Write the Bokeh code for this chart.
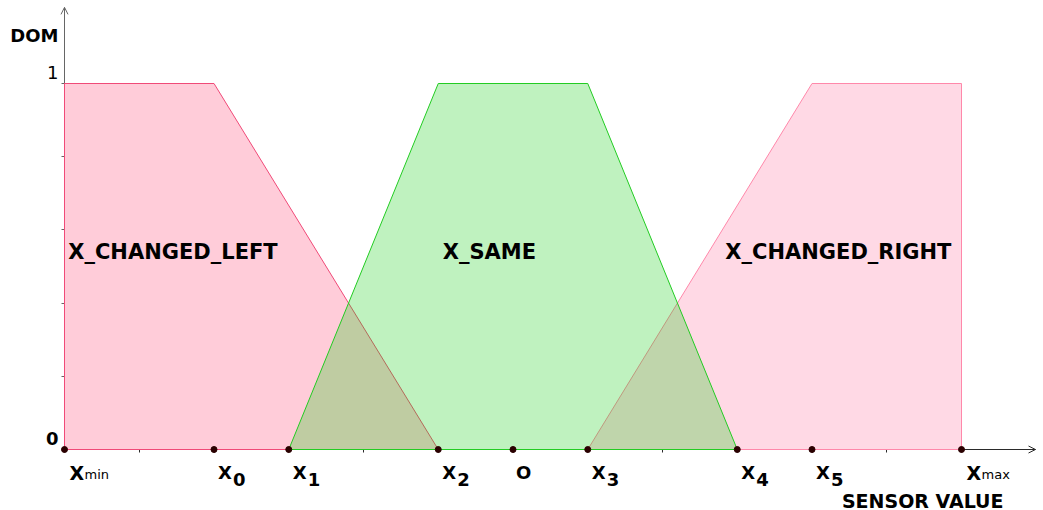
from bokeh.plotting import figure
from bokeh.models import (ColumnDataSource, LinearAxis, FixedTicker, Range1d,
                          Arrow, OpenHead, CustomLabelingPolicy)
from bokeh.core.properties import value
from bokeh.embed import file_html
from bokeh.resources import INLINE

# ---------------- data ----------------
point_x = [0, 2, 3, 5, 6, 7, 9, 10, 12]
point_main = ["X", "X", "X", "X", "O", "X", "X", "X", "X"]
point_sub = ["min", "0", "1", "2", "", "3", "4", "5", "max"]

left_x = [0, 0, 2, 5]
left_y = [0, 1, 1, 0]
same_x = [3, 5, 7, 9]
same_y = [0, 1, 1, 0]
right_x = [7, 10, 12, 12]
right_y = [0, 1, 1, 0]

set_names = ["X_CHANGED_LEFT", "X_SAME", "X_CHANGED_RIGHT"]
set_label_x = [0.05, 5.06, 8.84]
set_label_y = [0.54, 0.54, 0.54]

y_major = [0, 1]
y_major_labels = ["0", "1"]
y_minor = [0.2, 0.4, 0.6, 0.8]
x_ticks = list(range(0, 13))
y_title = "DOM"
x_title = "SENSOR VALUE"

# ---------------- layout ----------------
W, H = 1043, 510
PX_X = 74.75      # pixels per x unit
PX_Y = 366.0      # pixels per y unit
ORIGIN_SX = 64
ORIGIN_SY = 449
X_AXIS_END = 12.99
Y_AXIS_END = 1.208

x0 = -ORIGIN_SX / PX_X
x1 = x0 + W / PX_X
y1 = ORIGIN_SY / PX_Y
y0 = y1 - H / PX_Y

p = figure(width=W, height=H, output_backend="svg", toolbar_location=None,
           x_axis_type=None, y_axis_type=None,
           x_range=Range1d(x0, x1), y_range=Range1d(y0, y1),
           min_border=0, background_fill_color="white", outline_line_color=None)
p.grid.visible = False

no_labels = CustomLabelingPolicy(code="return new Set()")

AX = "#2a2a2a"
AY = "#666666"
xaxis = LinearAxis(fixed_location=0, ticker=FixedTicker(ticks=x_ticks),
                   major_label_policy=no_labels, bounds=(0, X_AXIS_END),
                   major_tick_out=3, major_tick_in=0, minor_tick_out=0,
                   axis_line_color=AX, major_tick_line_color=AX)
yaxis = LinearAxis(fixed_location=0, ticker=FixedTicker(ticks=y_major, minor_ticks=y_minor),
                   major_label_policy=no_labels, bounds=(0, Y_AXIS_END),
                   major_tick_out=3, major_tick_in=0, minor_tick_out=3, minor_tick_in=0,
                   axis_line_color=AY, major_tick_line_color=AY, minor_tick_line_color=AY)
xaxis.level = "underlay"
yaxis.level = "underlay"
p.add_layout(xaxis, "below")
p.add_layout(yaxis, "left")

# membership sets
p.patch(left_x, left_y, fill_color="#ff3366", fill_alpha=0.25,
        line_color="#f04a78", line_width=1)
p.patch(right_x, right_y, fill_color="#ff6699", fill_alpha=0.25,
        line_color="#ff88aa", line_width=1)
p.patch(same_x, same_y, fill_color="#00cc00", fill_alpha=0.25,
        line_color="#22cc22", line_width=1)

# set names
p.text(x=set_label_x, y=set_label_y, text=set_names,
       text_font=value("DejaVu Sans"), text_font_style="bold",
       text_font_size="21px", text_color="black",
       text_baseline="alphabetic", text_align="left")

# points on the axis
p.scatter(point_x, [0] * len(point_x), size=6, marker="circle",
          fill_color="#2a0000", line_color="#2a0000")

is_word = [len(s) > 1 for s in point_sub]
lab_src = ColumnDataSource(dict(
    x=point_x, y=[0] * len(point_x), main=point_main,
    main_size=["19px" if w else "18px" for w in is_word],
    main_dx=[5 if w else (3 if m == "O" else 4) for w, m in zip(is_word, point_main)],
))
sub_idx = [i for i, s in enumerate(point_sub) if s]
sub_src = ColumnDataSource(dict(
    x=[point_x[i] for i in sub_idx], y=[0] * len(sub_idx),
    sub=[point_sub[i] for i in sub_idx],
    sub_size=["13px" if is_word[i] else "18px" for i in sub_idx],
    sub_style=["normal" if is_word[i] else "bold" for i in sub_idx],
    sub_dx=[20 if is_word[i] else 19 for i in sub_idx],
    sub_dy=[25 if is_word[i] else 30 for i in sub_idx],
))
p.text(x="x", y="y", text="main", source=lab_src, x_offset="main_dx", y_offset=23,
       text_font=value("DejaVu Sans"), text_font_style="bold",
       text_font_size="main_size", text_color="black",
       text_baseline="alphabetic", text_align="left")
p.text(x="x", y="y", text="sub", source=sub_src, x_offset="sub_dx", y_offset="sub_dy",
       text_font=value("DejaVu Sans"), text_font_style="sub_style",
       text_font_size="sub_size", text_color="black",
       text_baseline="alphabetic", text_align="left")

# y tick labels
ylab_src = ColumnDataSource(dict(
    x=[0] * len(y_major), y=y_major, t=y_major_labels,
    style=["bold" if v == 0 else "normal" for v in y_major],
))
p.text(x="x", y="y", text="t", source=ylab_src, x_offset=-6, y_offset=-11,
       text_font=value("DejaVu Sans"), text_font_style="style",
       text_font_size="18px", text_color="black",
       text_baseline="alphabetic", text_align="right")

# axis titles
p.text(x=[0], y=[Y_AXIS_END], text=[y_title], x_offset=-6, y_offset=28,
       text_font=value("DejaVu Sans"), text_font_style="bold",
       text_font_size="18px", text_color="black",
       text_baseline="alphabetic", text_align="right")
p.text(x=[point_x[-1]], y=[0], text=[x_title], x_offset=42, y_offset=51,
       text_font=value("DejaVu Sans"), text_font_style="bold",
       text_font_size="19px", text_color="black",
       text_baseline="alphabetic", text_align="right")

# axis arrow heads
p.add_layout(Arrow(end=OpenHead(size=7, line_color=AX, line_width=1),
                   x_start=X_AXIS_END - 0.2, y_start=0, x_end=X_AXIS_END, y_end=0,
                   line_alpha=0))
p.add_layout(Arrow(end=OpenHead(size=7, line_color=AY, line_width=1),
                   x_start=0, y_start=Y_AXIS_END - 0.1, x_end=0, y_end=Y_AXIS_END,
                   line_alpha=0))

open("out.html", "w").write(file_html(p, INLINE))
